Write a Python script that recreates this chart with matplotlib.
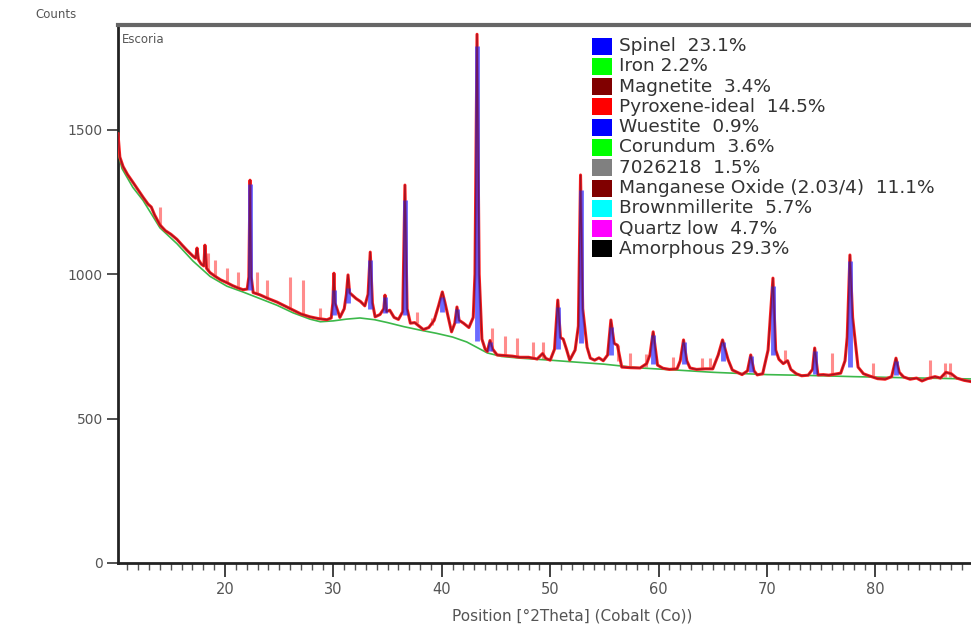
import matplotlib
matplotlib.use('Agg')
import matplotlib.pyplot as plt
from matplotlib.patches import Rectangle
from matplotlib.ticker import MultipleLocator

# measured pattern (position in deg 2theta, counts)
obs_pos = [10.13, 10.2, 10.3, 10.6, 11.0, 11.5, 12.0, 12.44, 12.9, 13.2, 13.5, 14.0, 14.5, 15.0, 15.57,
           16.0, 16.5, 17.05, 17.3, 17.42, 17.55, 17.8, 18.05, 18.15, 18.3, 18.62, 19.1, 19.6, 20.18, 20.7,
           21.2, 21.66, 22.05, 22.2, 22.31, 22.42, 22.6, 23.23, 24.0, 24.8, 25.5, 26.27, 27.0, 27.84, 28.6,
           29.41, 29.8, 29.95, 30.05, 30.15, 30.6, 31.0, 31.2, 31.35, 31.5, 31.8, 32.1, 32.5, 32.9, 33.2,
           33.4, 33.6, 33.85, 34.3, 34.65, 34.76, 34.9, 35.2, 35.6, 36.0, 36.4, 36.6, 36.8, 37.1, 37.5,
           38.3, 38.8, 39.3, 39.7, 40.05, 40.3, 40.6, 40.9, 41.2, 41.4, 41.6, 42.0, 42.5, 42.9, 43.06,
           43.25, 43.45, 43.7, 44.0, 44.2, 44.45, 44.7, 45.1, 45.8, 46.5, 47.2, 48.0, 48.8, 49.3, 49.6,
           50.0, 50.4, 50.7, 50.95, 51.2, 51.5, 51.8, 52.3, 52.6, 52.8, 53.0, 53.4, 53.7, 54.1, 54.5,
           54.9, 55.3, 55.6, 55.9, 56.2, 56.6, 57.4, 58.3, 58.9, 59.2, 59.5, 59.9, 60.4, 61.0, 61.7,
           62.0, 62.3, 62.6, 62.9, 63.5, 64.3, 65.0, 65.5, 65.9, 66.4, 66.8, 67.2, 67.7, 68.2, 68.5,
           68.8, 69.1, 69.6, 70.1, 70.55, 70.8, 71.1, 71.5, 71.9, 72.2, 72.7, 73.2, 73.8, 74.2, 74.4,
           74.7, 75.2, 75.7, 76.3, 76.8, 77.2, 77.4, 77.65, 77.9, 78.1, 78.4, 78.9, 79.4, 80.2, 80.9,
           81.5, 81.9, 82.2, 82.6, 83.2, 83.8, 84.3, 84.8, 85.5, 86.0, 86.5, 87.0, 87.5, 88.2, 88.8]
obs_counts = [1485, 1450, 1405, 1372, 1345, 1318, 1290, 1266, 1242, 1232, 1205, 1170, 1150, 1138, 1120,
              1102, 1082, 1062, 1055, 1090, 1050, 1035, 1028, 1100, 1020, 1005, 992, 980, 970, 960,
              952, 946, 948, 990, 1325, 990, 936, 928, 915, 903, 890, 876, 862, 852, 846,
              842, 848, 900, 1003, 900, 850, 880, 930, 997, 935, 925, 915, 905, 890, 930,
              1076, 900, 852, 860, 880, 927, 870, 875, 850, 843, 870, 1308, 880, 830, 832,
              808, 815, 840, 890, 938, 900, 850, 800, 830, 886, 840, 830, 815, 850, 1000,
              1830, 1000, 775, 740, 732, 770, 740, 720, 718, 716, 712, 712, 706, 725, 708,
              702, 740, 910, 780, 775, 740, 702, 737, 820, 1343, 880, 747, 709, 702, 710,
              700, 720, 841, 760, 754, 678, 676, 675, 690, 720, 800, 685, 674, 670, 672,
              700, 772, 700, 675, 670, 672, 672, 720, 772, 705, 668, 661, 652, 665, 720,
              665, 651, 655, 737, 986, 737, 705, 690, 700, 670, 655, 648, 650, 670, 744,
              651, 652, 650, 654, 657, 700, 782, 1066, 850, 782, 678, 655, 648, 638, 636,
              645, 709, 660, 644, 636, 640, 630, 638, 645, 640, 660, 655, 640, 632, 628]

# fitted background
bg_pos = [10.13, 10.5, 11.5, 12.44, 14.0, 15.57, 17.05, 18.62, 20.18, 21.66, 23.23, 24.8, 26.27, 27.84,
          28.8, 30.0, 31.2, 32.45, 33.8, 35.0, 36.5, 38.0, 39.5, 41.0, 42.3, 43.2, 44.2, 45.5, 47.2,
          50.0, 52.1, 55.0, 58.3, 62.0, 65.0, 67.5, 70.0, 74.0, 78.0, 83.0, 88.8]
bg_counts = [1420, 1365, 1300, 1255, 1160, 1105, 1045, 992, 958, 938, 915, 892, 866, 844,
             835, 838, 844, 848, 842, 832, 818, 806, 795, 782, 765, 747, 727, 715, 709,
             702, 696, 688, 675, 667, 660, 656, 652, 649, 645, 641, 637]

# calculated peak profiles (blue)
calc_pos = [22.31, 30.05, 31.35, 33.4, 34.76, 36.6, 40.05, 41.4, 43.25, 44.45, 50.7, 52.8, 55.6,
            59.5, 62.3, 65.9, 68.5, 70.55, 74.4, 77.65, 81.9]
calc_base = [945, 860, 900, 880, 865, 860, 870, 830, 770, 735, 740, 760, 720,
             690, 690, 700, 660, 720, 655, 680, 650]
calc_top = [1310, 945, 951, 1048, 920, 1255, 920, 880, 1790, 765, 886, 1290, 817,
            790, 765, 765, 715, 960, 735, 1045, 700]

# reference sticks
stick_pos = [14.0, 18.43, 19.08, 20.18, 21.2, 22.95, 23.87, 26.0, 27.2, 28.76, 37.7, 39.1, 44.6, 45.8,
             46.9, 48.4, 49.3, 56.3, 57.4, 58.8, 61.3, 64.0, 64.7, 71.7, 76.0, 79.8, 85.0, 86.4, 86.9]
stick_base = [1170, 1010, 992, 970, 952, 930, 915, 880, 862, 845, 830, 825, 735, 718,
              716, 712, 706, 700, 676, 680, 670, 672, 672, 700, 652, 645, 638, 645, 645]
stick_top = [1232, 1073, 1048, 1021, 1007, 1007, 979, 990, 979, 882, 869, 848, 813, 785,
             779, 765, 765, 754, 727, 723, 713, 709, 709, 737, 727, 692, 702, 692, 692]

phases = ['Spinel  23.1%', 'Iron 2.2%', 'Magnetite  3.4%', 'Pyroxene-ideal  14.5%', 'Wuestite  0.9%',
          'Corundum  3.6%', '7026218  1.5%', 'Manganese Oxide (2.03/4)  11.1%', 'Brownmillerite  5.7%',
          'Quartz low  4.7%', 'Amorphous 29.3%']
phase_colors = ['#0000ff', '#00ff00', '#800000', '#ff0000', '#0000ff', '#00ff00', '#808080',
                '#800000', '#00ffff', '#ff00ff', '#000000']

W, H = 971, 629
fig = plt.figure(figsize=(W / 100, H / 100), dpi=100)
ax = fig.add_axes([118 / W, 1 - 563 / H, 1 - 118 / W, (563 - 25) / H])

ax.vlines(stick_pos, stick_base, stick_top, color='#ff8c8c', lw=2.2, zorder=2)
ax.plot(bg_pos, bg_counts, color='#3cb84a', lw=1.2, zorder=3)
ax.plot(obs_pos, obs_counts, color='#ff2020', lw=2.2, zorder=4)
ax.vlines(calc_pos, calc_base, calc_top, color='#3a3aff', lw=3.5, alpha=0.75, zorder=5)
ax.plot(obs_pos, obs_counts, color='#6a0a20', lw=1.0, alpha=0.6, zorder=6)

ax.set_xlim(10.13, 88.82)
ax.set_ylim(0, 1862)
ax.set_xticks([20, 30, 40, 50, 60, 70, 80])
ax.xaxis.set_minor_locator(MultipleLocator(1))
ax.set_yticks([0, 500, 1000, 1500])
ax.tick_params(axis='x', which='major', length=10, width=1.3, color='#333', labelsize=10.5,
               labelcolor='#555', pad=4)
ax.tick_params(axis='x', which='minor', length=5, width=1, color='#555')
ax.tick_params(axis='y', length=8, width=1.2, color='#333', labelsize=10, labelcolor='#555', pad=3)

ax.spines['right'].set_visible(False)
ax.spines['top'].set_color('#666')
ax.spines['top'].set_linewidth(3)
ax.spines['left'].set_color('#222')
ax.spines['left'].set_linewidth(2)
ax.spines['bottom'].set_color('#222')
ax.spines['bottom'].set_linewidth(2)

ax.set_xlabel('Position [°2Theta] (Cobalt (Co))', fontsize=11, color='#555')
ax.xaxis.set_label_coords(0.532, -0.085)
fig.text(35 / W, 1 - 15 / H, 'Counts', fontsize=8.5, color='#555', va='center')
ax.text(0.005, 0.985, 'Escoria', transform=ax.transAxes, va='top', fontsize=8.5, color='#555')

# legend drawn by hand
for i, (name, c) in enumerate(zip(phases, phase_colors)):
    yc = 46 + i * 20.3
    fig.add_artist(Rectangle((592 / W, 1 - (yc + 8.5) / H), 20 / W, 17 / H,
                             transform=fig.transFigure, facecolor=c, edgecolor='none'))
    fig.text(619 / W, 1 - yc / H, name, fontsize=13.3, color='#333', va='center')

fig.savefig('out.png', dpi=100)
